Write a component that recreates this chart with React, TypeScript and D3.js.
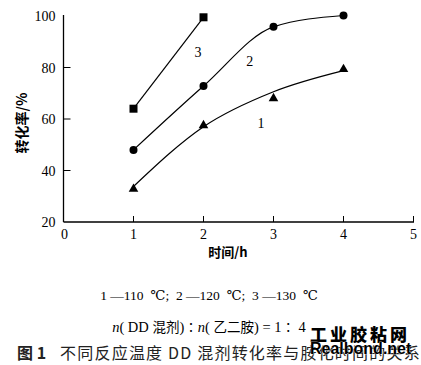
import React from "react";
import * as d3 from "d3";

const xTicks = [0, 1, 2, 3, 4, 5];
const yTicks = [20, 40, 60, 80, 100];
const timeH = [1, 2, 3, 4];
const series1 = [33.2, 57.9, 68.4, 79.7]; // 110 ℃, triangles
const series1Fit = [33.8, 57.0, 70.6, 78.8];
const series2 = [48, 72.8, 95.8, 100.2]; // 120 ℃, circles
const series3Time = [1, 2];
const series3 = [64, 99.5]; // 130 ℃, squares
const seriesLabels = [
  { text: "3", t: 1.92, v: 84 },
  { text: "2", t: 2.66, v: 80.6 },
  { text: "1", t: 2.82, v: 56.5 },
];

const serif = "'Liberation Serif', 'DejaVu Serif', serif";
const cjk = "'Noto Sans CJK SC', sans-serif";

export default function App() {
  const W = 421, H = 365;
  const x = d3.scaleLinear().domain([0, 5]).range([63.5, 413.5]);
  const y = d3.scaleLinear().domain([20, 100]).range([222, 16]);
  const line = d3
    .line<[number, number]>()
    .x((d) => x(d[0]))
    .y((d) => y(d[1]))
    .curve(d3.curveMonotoneX);
  const straight = d3
    .line<[number, number]>()
    .x((d) => x(d[0]))
    .y((d) => y(d[1]));

  const p1 = timeH.map((t, i) => [t, series1Fit[i]] as [number, number]);
  const p2 = timeH.map((t, i) => [t, series2[i]] as [number, number]);
  const p3 = series3Time.map((t, i) => [t, series3[i]] as [number, number]);

  const tri = d3.symbol().type(d3.symbolTriangle).size(40)();

  return (
    <svg
      width={W}
      height={H}
      style={{ position: "absolute", left: 0, top: 0, background: "#fff" }}
    >
      {/* axes */}
      <line x1={x(0)} x2={x(5) + 0.5} y1={y(20)} y2={y(20)} stroke="#000" strokeWidth={1.3} />
      <line x1={x(0)} x2={x(0)} y1={y(20)} y2={y(100) - 1} stroke="#000" strokeWidth={1.3} />
      {xTicks.slice(1).map((t) => (
        <line key={t} x1={x(t)} x2={x(t)} y1={y(20)} y2={y(20) - 6} stroke="#000" strokeWidth={1} />
      ))}
      {yTicks.slice(1, -1).map((v) => (
        <line key={v} x1={x(0)} x2={x(0) + 7} y1={y(v)} y2={y(v)} stroke="#000" strokeWidth={1} />
      ))}
      {xTicks.map((t) => (
        <text key={t} x={x(t) + (t === 0 ? 1 : 0)} y={y(20) + 17} textAnchor="middle" fontFamily={serif} fontSize={14}>
          {t}
        </text>
      ))}
      {yTicks.map((v) => (
        <text key={v} x={x(0) - 8} y={y(v) + 5} textAnchor="end" fontFamily={serif} fontSize={14}>
          {v}
        </text>
      ))}
      <text
        transform={`translate(27,123) rotate(-90)`}
        textAnchor="middle"
        fontFamily={cjk}
        fontWeight="bold"
        fontSize={14}
      >
        转化率/%
      </text>
      <text x={228} y={257} textAnchor="middle" fontFamily={cjk} fontWeight="bold" fontSize={13}>
        时间/h
      </text>

      {/* curves */}
      <path d={line(p1) || ""} fill="none" stroke="#000" strokeWidth={1.2} />
      <path d={line(p2) || ""} fill="none" stroke="#000" strokeWidth={1.2} />
      <path d={straight(p3) || ""} fill="none" stroke="#000" strokeWidth={1.2} />

      {/* markers */}
      {timeH.map((t, i) => (
        <path key={"t" + i} d={tri || ""} transform={`translate(${x(t)},${y(series1[i]) + 1})`} fill="#000" />
      ))}
      {timeH.map((t, i) => (
        <circle key={"c" + i} cx={x(t)} cy={y(series2[i])} r={4} fill="#000" />
      ))}
      {series3Time.map((t, i) => (
        <rect key={"s" + i} x={x(t) - 4} y={y(series3[i]) - 4} width={8} height={8} fill="#000" />
      ))}

      {seriesLabels.map((l) => (
        <text key={l.text} x={x(l.t)} y={y(l.v)} textAnchor="middle" fontFamily={serif} fontSize={14}>
          {l.text}
        </text>
      ))}

      {/* caption */}
      <text x={209} y={300} textAnchor="middle" fontFamily={serif} fontSize={13.5} xmlSpace="preserve">
        {"1 —110  ℃;  2 —120  ℃;  3 —130  ℃"}
      </text>
      <text x={209} y={332} textAnchor="middle" fontFamily={serif} fontSize={14.5}>
        <tspan fontStyle="italic">n</tspan>
        {"( DD "}
        <tspan fontFamily={cjk} fontSize={13.5}>混剂</tspan>
        {")"}
        <tspan fontFamily={cjk} fontSize={13.5}>∶</tspan>
        <tspan fontStyle="italic">n</tspan>
        {"( "}
        <tspan fontFamily={cjk} fontSize={13.5}>乙二胺</tspan>
        {") = 1"}
        <tspan fontFamily={cjk} fontSize={13.5}>∶</tspan>
        {" 4"}
      </text>
      <text x={17} y={359} fontFamily={cjk} fontSize={16} fill="#222">
        <tspan fontWeight="bold">{"图 1"}</tspan>
        <tspan dx={14} letterSpacing={1.2}>不同反应温度 DD 混剂转化率与胺化时间的关系</tspan>
      </text>

      {/* watermark */}
      <text x={310} y={341} fontFamily={cjk} fontWeight="900" fontSize={17} letterSpacing={3} fill="#000">
        工业胶粘网
      </text>
      <text x={310} y={354} fontFamily="'Liberation Sans', Arial, sans-serif" fontWeight="bold" fontSize={16} fill="#000" stroke="#fff" strokeWidth={0.6} paintOrder="stroke">
        Realbond.net
      </text>
    </svg>
  );
}
